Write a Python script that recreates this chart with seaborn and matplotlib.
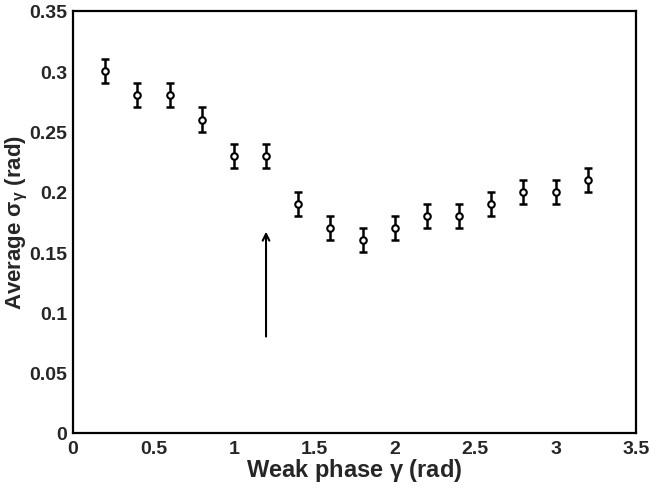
import matplotlib
matplotlib.use("Agg")
import matplotlib.pyplot as plt
from matplotlib.ticker import MultipleLocator
import pandas as pd
import seaborn as sns

# Weak phase gamma (rad) and the average fitted sigma_gamma (rad)
gamma = [0.2, 0.4, 0.6, 0.8, 1.0, 1.2, 1.4, 1.6, 1.8, 2.0, 2.2, 2.4, 2.6, 2.8, 3.0, 3.2]
sigma = [0.30, 0.28, 0.28, 0.26, 0.23, 0.23, 0.19, 0.17, 0.16, 0.17, 0.18, 0.18, 0.19, 0.20, 0.20, 0.21]
sigma_err = [0.01] * 16

# Arrow marking gamma = 1.2 rad
arrow_x = 1.2
arrow_y0 = 0.08
arrow_y1 = 0.167

sns.set_style("white")
plt.rcParams["font.family"] = ["Liberation Sans", "DejaVu Sans"]
plt.rcParams["font.weight"] = "bold"
plt.rcParams["mathtext.fontset"] = "custom"
plt.rcParams["mathtext.rm"] = "Liberation Sans"
plt.rcParams["mathtext.it"] = "Liberation Sans"

df = pd.DataFrame({"gamma": gamma, "sigma": sigma, "err": sigma_err})

fig = plt.figure(figsize=(6.5, 4.89), dpi=100)
ax = fig.add_axes([73 / 650, 1 - 434 / 489, 563 / 650, 422 / 489])

ax.errorbar(df["gamma"], df["sigma"], yerr=df["err"], fmt="none",
            ecolor="black", elinewidth=1.8, capsize=3, capthick=1.8, zorder=2)
sns.scatterplot(data=df, x="gamma", y="sigma", ax=ax, marker="o", s=22,
                facecolor="white", edgecolor="black", linewidth=1.5, zorder=3)

ax.annotate("", xy=(arrow_x, arrow_y1), xytext=(arrow_x, arrow_y0),
            arrowprops=dict(arrowstyle="->", color="black", lw=1.5,
                            mutation_scale=12, shrinkA=0, shrinkB=0))

ax.set_xlim(0, 3.5)
ax.set_ylim(0, 0.35)
ax.xaxis.set_minor_locator(MultipleLocator(0.1))
ax.yaxis.set_minor_locator(MultipleLocator(0.01))
ax.set_xticks([0, 0.5, 1, 1.5, 2, 2.5, 3, 3.5])
ax.set_xticklabels(["0", "0.5", "1", "1.5", "2", "2.5", "3", "3.5"])
ax.set_yticks([0, 0.05, 0.1, 0.15, 0.2, 0.25, 0.3, 0.35])
ax.set_yticklabels(["0", "0.05", "0.1", "0.15", "0.2", "0.25", "0.3", "0.35"])

ax.tick_params(axis="both", which="major", direction="in", length=8, width=1.5,
               labelsize=14, top=False, right=False)
ax.tick_params(axis="x", which="major", pad=5)
ax.tick_params(axis="y", which="major", pad=4)
ax.tick_params(axis="both", which="minor", direction="in", length=4, width=1.2,
               top=False, right=False)
for lab in ax.get_xticklabels() + ax.get_yticklabels():
    lab.set_fontweight("bold")

for sp in ax.spines.values():
    sp.set_visible(True)
    sp.set_color("black")
    sp.set_linewidth(1.6)

ax.set_xlabel(r"Weak phase $\gamma$ (rad)", fontsize=17, fontweight="bold", labelpad=-1)
ax.set_ylabel(r"Average $\sigma_{\gamma}$ (rad)", fontsize=16, fontweight="bold")
ax.yaxis.set_label_coords(-(73 - 30) / 563, 0.5)

fig.savefig("out.png", dpi=100)
